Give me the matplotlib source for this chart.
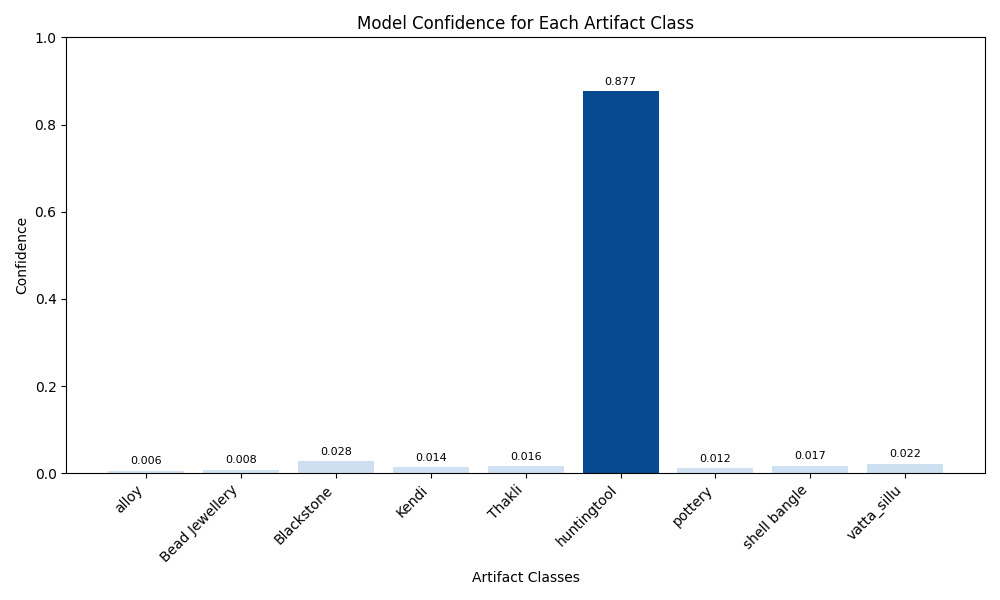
import numpy as np
import matplotlib
matplotlib.use("Agg")
import matplotlib.pyplot as plt

classes = ["alloy", "Bead Jewellery", "Blackstone", "Kendi", "Thakli",
           "huntingtool", "pottery", "shell bangle", "vatta_sillu"]
confidence = [0.006, 0.008, 0.028, 0.014, 0.016, 0.877, 0.012, 0.017, 0.022]

vals = np.array(confidence)
norm = (vals - vals.min()) / (vals.max() - vals.min())
colors = plt.cm.Blues(0.2 + 0.7 * norm)

fig, ax = plt.subplots(figsize=(10, 6))
bars = ax.bar(classes, confidence, color=colors)
for b, v in zip(bars, confidence):
    ax.text(b.get_x() + b.get_width() / 2, v + 0.01, f"{v:.3f}",
            ha="center", va="bottom", fontsize=8)
ax.set_ylim(0, 1)
ax.set_xlabel("Artifact Classes")
ax.set_ylabel("Confidence")
ax.set_title("Model Confidence for Each Artifact Class")
plt.xticks(rotation=45, ha="right")
plt.tight_layout()
plt.savefig("out.png", dpi=100)
